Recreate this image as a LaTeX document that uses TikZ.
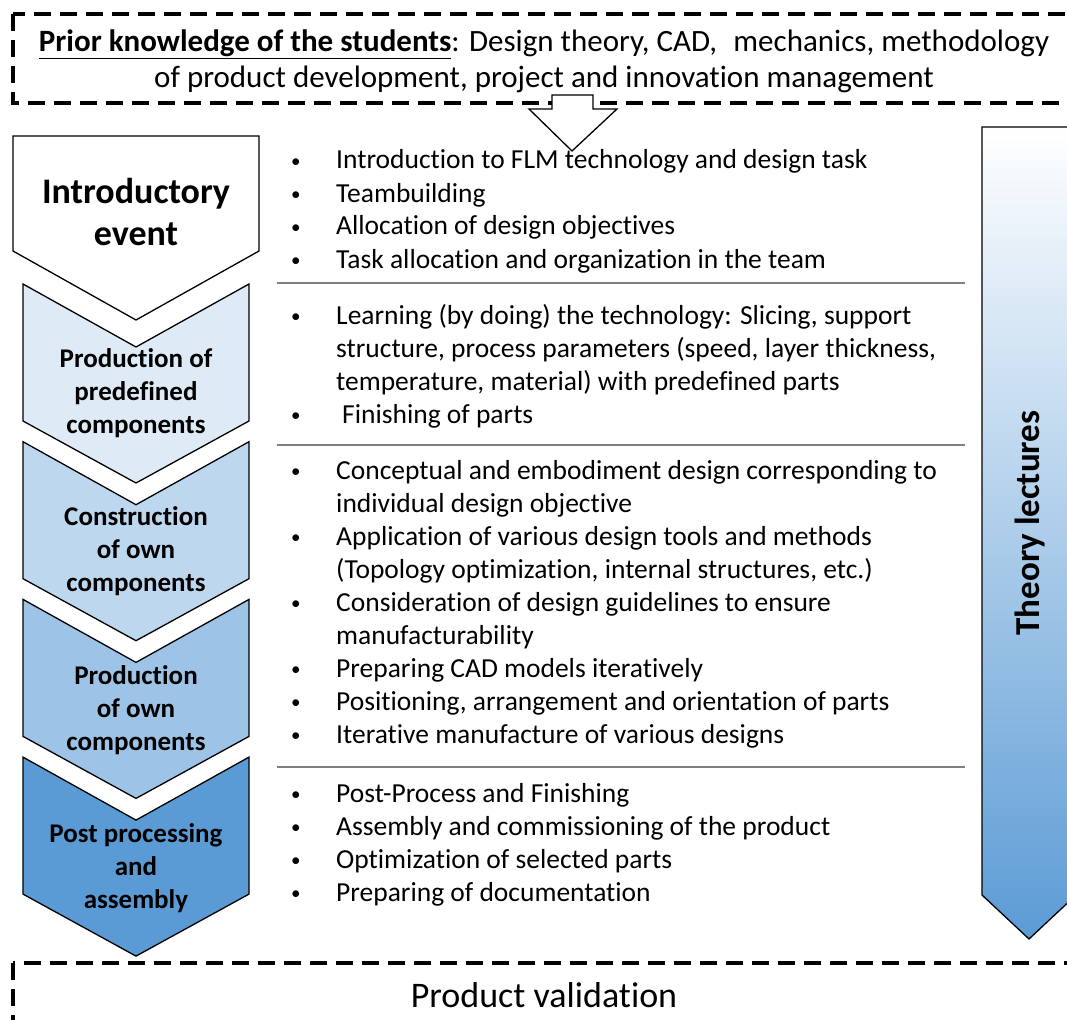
\documentclass[tikz,border=0pt]{standalone}
\usepackage{fontspec}
\setmainfont{Carlito}[Ligatures=NoCommon]
\usepackage{array}
\definecolor{stepA}{HTML}{DEEBF7}
\definecolor{stepB}{HTML}{BDD7EE}
\definecolor{stepC}{HTML}{9DC3E6}
\definecolor{stepD}{HTML}{5B9BD5}
\definecolor{sepgray}{HTML}{7F7F7F}
\newcommand{\bitem}{\hspace*{2pt}{\fontsize{19}{19}\selectfont\raisebox{1.5pt}{\textbullet}}}
\newenvironment{blist}{\fontsize{27.5}{33}\selectfont\begin{tabular}[t]{@{}p{47pt}@{}l@{}}}{\end{tabular}}
\begin{document}
\begin{tikzpicture}[x=1pt,y=-1pt,
  dashbox/.style={draw=black,line width=3.2pt,dash pattern=on 17pt off 9pt},
  chev/.style={draw=black,line width=1.3pt,line join=miter},
  chevtext/.style={align=center,font=\fontsize{27}{33}\selectfont\bfseries,inner sep=0pt},
  sepline/.style={draw=sepgray,line width=1.2pt},
  listnode/.style={anchor=base west,inner sep=0pt}]
\useasboundingbox (0,0) rectangle (1067,1019);
\clip (0,0) rectangle (1067,1019);

% prior knowledge box
\draw[dashbox] (13,14) rectangle (1100,103);
\node[align=center,inner sep=0pt,font=\fontsize{31}{36}\selectfont] (prior) at (544,61)
  {\underline{\textbf{Prior knowledge of the students}}: Design theory, CAD,\hspace{0.3em} mechanics, methodology\\
   of product development, project and innovation management};

% hollow arrow into the course
\draw[line width=1.3pt,fill=white,line join=miter]
  (552,95) -- (593,95) -- (593,109) -- (617,109) -- (572,151) -- (529,109) -- (552,109) -- cycle;

% course phases
\draw[chev,fill=white] (13,136) -- (259,136) -- (259,251) -- (136,320) -- (13,251) -- cycle;
\foreach \k/\c in {0/stepA,1/stepB,2/stepC,3/stepD}{
  \pgfmathsetmacro{\T}{284+157.7*\k}
  \draw[chev,fill=\c] (23,\T) -- (136,\T+63) -- (249,\T) -- (249,\T+137) -- (136,\T+199) -- (23,\T+137) -- cycle;
}
\node[align=center,inner sep=0pt,font=\fontsize{36}{42}\selectfont\bfseries] (intro) at (136,212) {Introductory\\event};
\node[chevtext] (predef) at (136,393) {Production of\\predefined\\components};
\node[chevtext] (constr) at (136,551) {Construction\\of own\\components};
\node[chevtext] (prodown) at (136,710) {Production\\of own\\components};
\node[chevtext] (post) at (136,868) {Post processing\\and\\assembly};

% activities of each phase
\node[listnode] (l1) at (289,169) {\begin{blist}
\bitem & Introduction to FLM technology and design task\\
\bitem & Teambuilding\\
\bitem & Allocation of design objectives\\
\bitem & Task allocation and organization in the team
\end{blist}};
\draw[sepline] (277,283) -- (965,283);
\node[listnode] (l2) at (289,324) {\begin{blist}
\bitem & Learning (by doing) the technology: Slicing, support\\
 & structure, process parameters (speed, layer thickness,\\
 & temperature, material) with predefined parts\\
\bitem & \hspace{6pt}Finishing of parts
\end{blist}};
\draw[sepline] (277,445) -- (965,445);
\node[listnode] (l3) at (289,479) {\begin{blist}
\bitem & Conceptual and embodiment design corresponding to\\
 & individual design objective\\
\bitem & Application of various design tools and methods\\
 & (Topology optimization, internal structures, etc.)\\
\bitem & Consideration of design guidelines to ensure\\
 & manufacturability\\
\bitem & Preparing CAD models iteratively\\
\bitem & Positioning, arrangement and orientation of parts\\
\bitem & Iterative manufacture of various designs
\end{blist}};
\draw[sepline] (277,767) -- (965,767);
\node[listnode] (l4) at (289,802) {\begin{blist}
\bitem & Post-Process and Finishing\\
\bitem & Assembly and commissioning of the product\\
\bitem & Optimization of selected parts\\
\bitem & Preparing of documentation
\end{blist}};

% theory lectures running alongside
\path[draw=black,line width=1.3pt,top color=white,bottom color=stepD]
  (982,127) -- (1076,127) -- (1076,895) -- (1029,939) -- (982,895) -- cycle;
\node[rotate=90,inner sep=0pt,font=\fontsize{35}{40}\selectfont\bfseries] (theory) at (1030,523) {Theory lectures};

% validation box
\draw[dashbox] (13,963) rectangle (1100,1060);
\node[inner sep=0pt,font=\fontsize{36}{40}\selectfont] (valid) at (544,995) {Product validation};
\end{tikzpicture}
\end{document}
